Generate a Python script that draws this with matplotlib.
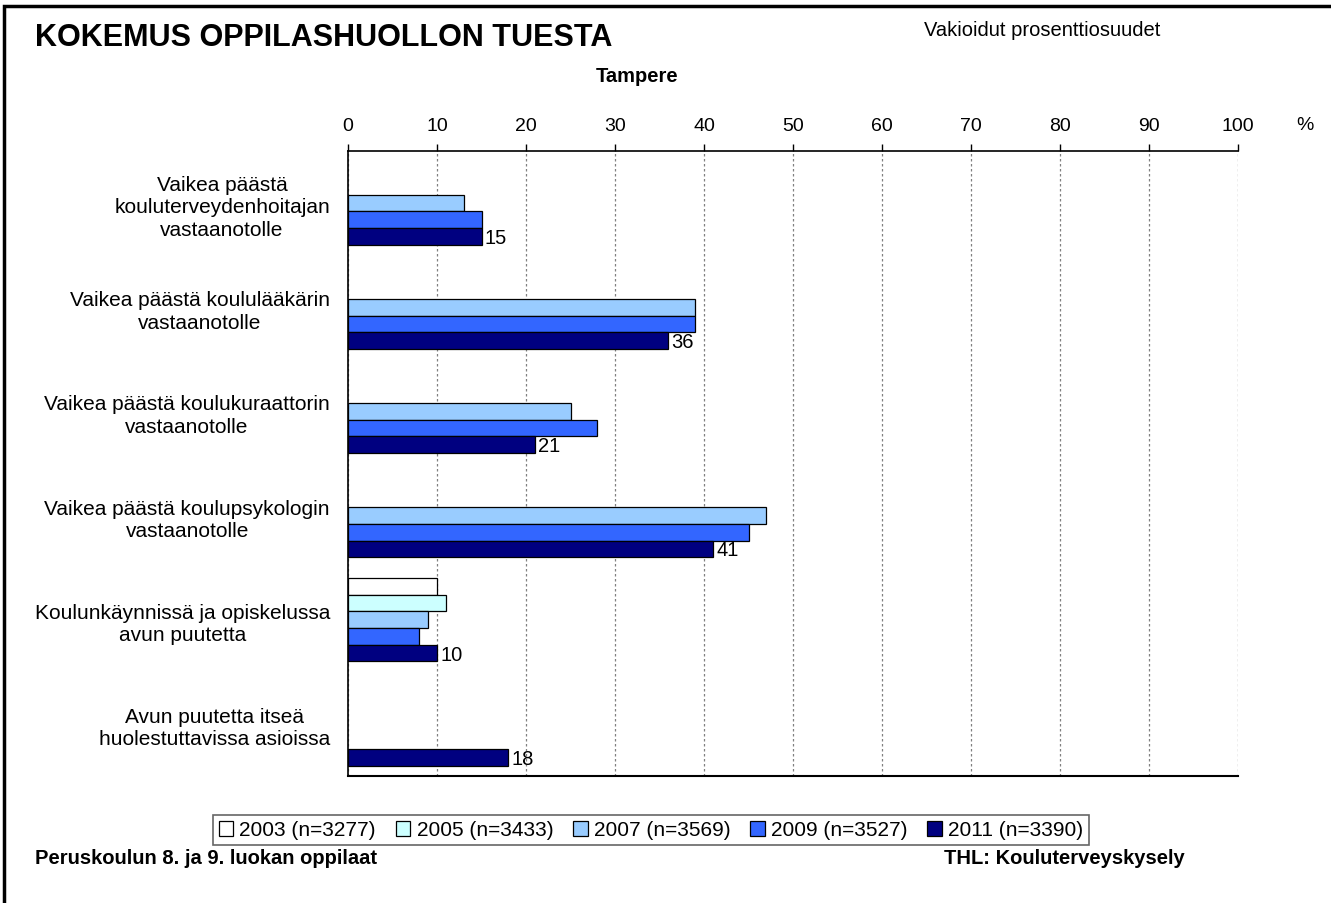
import matplotlib
matplotlib.use('Agg')
import matplotlib.pyplot as plt
from matplotlib.patches import Rectangle
import numpy as np

plt.rcParams['font.family'] = ['Liberation Sans', 'DejaVu Sans']

# Data
categories = [
    'Vaikea päästä\nkouluterveydenhoitajan\nvastaanotolle',
    'Vaikea päästä koululääkärin\nvastaanotolle',
    'Vaikea päästä koulukuraattorin\nvastaanotolle',
    'Vaikea päästä koulupsykologin\nvastaanotolle',
    'Koulunkäynnissä ja opiskelussa\navun puutetta',
    'Avun puutetta itseä\nhuolestuttavissa asioissa',
]
series = ['2003 (n=3277)', '2005 (n=3433)', '2007 (n=3569)',
          '2009 (n=3527)', '2011 (n=3390)']
v2003 = [None, None, None, None, 10, None]
v2005 = [None, None, None, None, 11, None]
v2007 = [13, 39, 25, 47, 9, None]
v2009 = [15, 39, 28, 45, 8, None]
v2011 = [15, 36, 21, 41, 10, 18]
values = [v2003, v2005, v2007, v2009, v2011]
colors = ['#FFFFFF', '#CCFFFF', '#99CCFF', '#3366FF', '#000080']

fig = plt.figure(figsize=(13.31, 9.04), dpi=100)

# outer frame (only left/top visible in the original crop)
fig.patches.append(Rectangle((4 / 1331, -0.05), 1.1, 1.05 - 7 / 904,
                             transform=fig.transFigure, fill=False,
                             edgecolor='black', linewidth=2.5))

ax = fig.add_axes([348 / 1331, 1 - 777 / 904, 890 / 1331, 625 / 904])

h = 0.16
y = np.arange(len(categories))
for i, (vals, col, name) in enumerate(zip(values, colors, series)):
    pos = y + (i - 2) * h
    mask = np.array([v is not None for v in vals])
    xs = np.array([v if v is not None else 0 for v in vals])
    ax.barh(pos[mask], xs[mask], height=h, color=col,
            edgecolor='black', linewidth=0.9, label=name, zorder=3)
    if i == 4:
        for p, v in zip(pos, vals):
            if v is not None:
                ax.text(v + 0.35, p + 0.01, str(v), va='center', ha='left',
                        fontsize=14.5, zorder=4)

ax.set_xlim(0, 100)
ax.set_ylim(len(categories) - 0.5, -0.5)
ax.xaxis.tick_top()
ax.set_xticks(np.arange(0, 101, 10))
ax.tick_params(axis='x', direction='out', length=5, width=1, labelsize=14,
               pad=7)
ax.set_yticks(y)
ax.set_yticklabels(categories, fontsize=15, linespacing=1.22)
for lab in ax.get_yticklabels():
    lab.set_multialignment('center')
ax.tick_params(axis='y', length=0, pad=13)
ax.grid(axis='x', color='#808080', linestyle=(0, (2, 2)), linewidth=0.9,
        zorder=0)
for s in ['right', 'bottom']:
    ax.spines[s].set_visible(False)
ax.spines['top'].set_linewidth(1.2)
ax.spines['left'].set_linewidth(1.2)
ax.axhline(len(categories) - 0.5, color='black', linewidth=1.5, zorder=5,
           clip_on=False)

fig.text(1305 / 1331, 1 - 125 / 904, '%', fontsize=14, ha='center',
         va='center')
fig.text(35 / 1331, 1 - 38 / 904, 'KOKEMUS OPPILASHUOLLON TUESTA',
         fontsize=22, fontweight='bold', ha='left', va='center')
fig.text(1160 / 1331, 1 - 30 / 904, 'Vakioidut prosenttiosuudet',
         fontsize=14.5, ha='right', va='center')
fig.text(637 / 1331, 1 - 77 / 904, 'Tampere', fontsize=14.5,
         fontweight='bold', ha='center', va='center')
fig.text(35 / 1331, 1 - 859 / 904, 'Peruskoulun 8. ja 9. luokan oppilaat',
         fontsize=14.5, fontweight='bold', ha='left', va='center')
fig.text(1185 / 1331, 1 - 859 / 904, 'THL: Kouluterveyskysely',
         fontsize=14.5, fontweight='bold', ha='right', va='center')

leg = fig.legend(loc='center', bbox_to_anchor=(651 / 1331, 1 - 831 / 904),
                 ncol=5, fontsize=15, frameon=True, fancybox=False,
                 handlelength=0.7, handleheight=0.7, handletextpad=0.3,
                 columnspacing=0.95, borderpad=0.25, borderaxespad=0)
leg.get_frame().set_edgecolor('#404040')
leg.get_frame().set_linewidth(1.2)

fig.savefig('out.png', dpi=100)
